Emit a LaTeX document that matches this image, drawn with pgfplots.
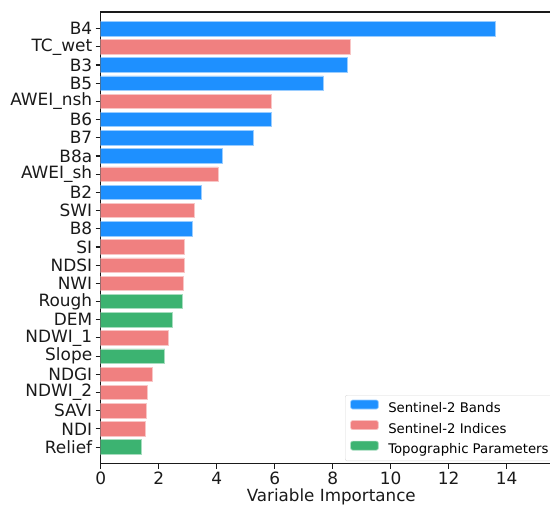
\documentclass[border=0pt]{standalone}
\usepackage{pgfplots}
\pgfplotsset{compat=1.18}
\usepackage{fontspec}
\setmainfont{DejaVu Sans}
\definecolor{bandblue}{HTML}{1E90FF}
\definecolor{indexred}{HTML}{F08080}
\definecolor{topogreen}{HTML}{3CB371}
\definecolor{spine}{HTML}{1A1A1A}

% Variable importance per predictor, position 0 = top row
\pgfplotstableread{
pos val
0  13.62
2  8.52
3  7.68
5  5.88
6  5.27
7  4.20
9  3.48
11 3.17
}\bands
\pgfplotstableread{
pos val
1  8.61
4  5.89
8  4.05
10 3.23
12 2.88
13 2.87
14 2.84
17 2.32
19 1.79
20 1.60
21 1.58
22 1.54
}\indices
\pgfplotstableread{
pos val
15 2.83
16 2.48
18 2.21
23 1.40
}\topo

\begin{document}
\begin{tikzpicture}
\begin{axis}[
  name=ax,
  scale only axis,
  width=461.1bp, height=451.3bp,
  xmin=0, xmax=15.9,
  ymin=-0.9, ymax=23.9,
  y dir=reverse,
  xtick={0,2,...,14},
  ytick={0,...,23},
  yticklabels={B4,TC\_wet,B3,B5,AWEI\_nsh,B6,B7,B8a,AWEI\_sh,B2,SWI,B8,SI,NDSI,NWI,Rough,DEM,NDWI\_1,Slope,NDGI,NDWI\_2,SAVI,NDI,Relief},
  xtick pos=bottom, ytick pos=left,
  tick align=outside,
  major tick length=5bp,
  every tick/.style={spine, line width=1.1bp},
  axis line style={spine, line width=1.6bp},
  /pgf/number format/assume math mode=true,
  tick label style={font=\fontsize{17}{20}\selectfont, text=spine},
  xlabel={Variable Importance},
  xlabel style={font=\fontsize{16.8}{20}\selectfont, text=spine, yshift=3bp},
  legend cell align=left,
  legend style={
    at={(0.530,0.1518)}, anchor=north west,
    draw=black!15, rounded corners=2bp, fill=white,
    font=\fontsize{13.3}{15}\selectfont,
    inner xsep=5bp, inner ysep=4.5bp,
    row sep=5bp,
    nodes={inner sep=0bp, text height=9.5bp, text depth=2.5bp},
    /tikz/every odd column/.append style={column sep=9.6bp},
  },
  legend image code/.code={
    \fill[#1] (0bp,0.2bp) rectangle (27.7bp,9.2bp);
  },
]
\addplot[xbar, bar width=0.8, bar shift=0pt, fill=bandblue, draw=bandblue!45!white, line width=0.7bp]
  table[x=val, y=pos] {\bands};
\addlegendentry{Sentinel-2 Bands}
\addplot[xbar, bar width=0.8, bar shift=0pt, fill=indexred, draw=indexred!45!white, line width=0.7bp]
  table[x=val, y=pos] {\indices};
\addlegendentry{Sentinel-2 Indices}
\addplot[xbar, bar width=0.8, bar shift=0pt, fill=topogreen, draw=topogreen!45!white, line width=0.7bp]
  table[x=val, y=pos] {\topo};
\addlegendentry{Topographic Parameters}
\end{axis}
\pgfresetboundingbox
\path[use as bounding box] (ax.south west) ++(-100.7bp,-41.5bp) rectangle ++(550bp,505bp);
\end{tikzpicture}
\end{document}
